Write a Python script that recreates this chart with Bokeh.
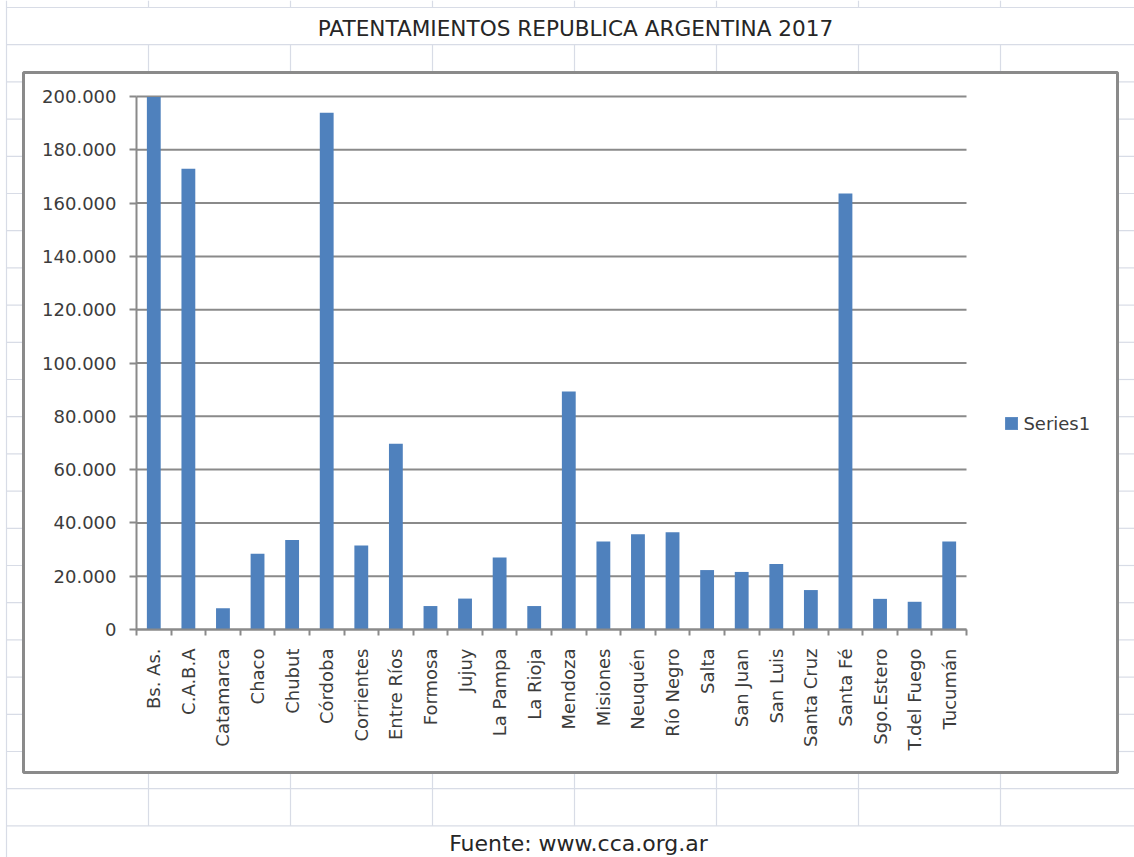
import math
from bokeh.plotting import figure
from bokeh.models import (FixedTicker, BoxAnnotation, Label, Legend, LegendItem, Range1d)
from bokeh.embed import file_html
from bokeh.resources import INLINE

# ---------------- data ----------------
categories = ["Bs. As.", "C.A.B.A", "Catamarca", "Chaco", "Chubut", "Córdoba",
              "Corrientes", "Entre Ríos", "Formosa", "Jujuy", "La Pampa", "La Rioja",
              "Mendoza", "Misiones", "Neuquén", "Río Negro", "Salta", "San Juan",
              "San Luis", "Santa Cruz", "Santa Fé", "Sgo.Estero", "T.del Fuego", "Tucumán"]
patentamientos = [199800, 172900, 8000, 28400, 33600, 193900,
                  31500, 69700, 8800, 11600, 27000, 8800,
                  89300, 33000, 35700, 36500, 22300, 21600,
                  24600, 14800, 163600, 11500, 10400, 33000]
y_ticks = [0, 20000, 40000, 60000, 80000, 100000, 120000, 140000, 160000, 180000, 200000]
series_name = "Series1"
title_text = "PATENTAMIENTOS REPUBLICA ARGENTINA 2017"
source_text = "Fuente: www.cca.org.ar"

# ---------------- layout / style ----------------
W, H = 1134, 857
FL, FR, FT, FB = 136, 966, 96, 629   # plot area in canvas pixels
BOX = (23, 72, 1117, 772)            # chart area box (left, top, right, bottom)
FONT = "DejaVu Sans"
TXT = "#3c3c3c"
AXIS = "#8a8a8a"
BAR = "#4f81bd"
SHEET = "#d8dce6"

n = len(categories)
xs = list(range(n))
x_lo, x_hi = -0.5, n - 0.5
y_lo, y_hi = y_ticks[0], y_ticks[-1]

# ranges chosen so that the plot area lands on FL..FR / FT..FB while the frame fills the canvas
kx = (FR - FL) / (x_hi - x_lo)
ky = (FB - FT) / (y_hi - y_lo)
x_range = Range1d(x_lo - FL / kx, x_hi + (W - FR) / kx)
y_range = Range1d(y_lo - (H - FB) / ky, y_hi + FT / ky)

p = figure(width=W, height=H, output_backend="svg", toolbar_location=None,
           x_range=x_range, y_range=y_range,
           min_border=0, border_fill_color="white", background_fill_color="white",
           outline_line_color=None)

# ---- spreadsheet background (outside the chart box) ----
def sheet_box(l, t, r, b):
    p.add_layout(BoxAnnotation(left=l, right=r, top=t, bottom=b,
                               left_units="canvas", right_units="canvas",
                               top_units="canvas", bottom_units="canvas",
                               fill_color=SHEET, fill_alpha=1.0, line_color=None,
                               level="underlay"))

bl, bt, br, bb = BOX
row_h = 37.2
rows = [7 + row_h * k for k in range(23)]
for y in rows:
    if bt - 2 < y < bb + 2:
        sheet_box(6, y - 0.6, bl - 1, y + 0.6)
        sheet_box(br + 1, y - 0.6, W, y + 0.6)
    else:
        sheet_box(6, y - 0.6, W, y + 0.6)
cols = [148 + 142 * k for k in range(7)]
for x in cols:
    sheet_box(x - 0.6, 0, x + 0.6, 7)
    sheet_box(x - 0.6, 44, x + 0.6, bt - 1)
    sheet_box(x - 0.6, bb + 1, x + 0.6, rows[-1])
sheet_box(5.4, 0, 6.6, H)

# chart box border
p.add_layout(BoxAnnotation(left=bl, right=br, top=bt, bottom=bb,
                           left_units="canvas", right_units="canvas",
                           top_units="canvas", bottom_units="canvas",
                           fill_alpha=0.0, line_color="#8a8a8a", line_alpha=1.0,
                           line_width=3, level="underlay"))

# ---- horizontal gridlines (limited to the plot area) ----
p.segment(x0=[x_lo] * len(y_ticks), x1=[x_hi] * len(y_ticks), y0=y_ticks, y1=y_ticks,
          line_color=AXIS, line_width=2)

# ---- bars ----
r = p.vbar(x=xs, top=patentamientos, width=0.4, fill_color=BAR, line_color=None)

# ---- axes ----
xa = p.xaxis[0]
xa.fixed_location = y_lo
xa.bounds = (x_lo, x_hi)
xa.ticker = FixedTicker(ticks=xs, minor_ticks=[i - 0.5 for i in range(n + 1)])
xa.major_label_overrides = {i: c for i, c in zip(xs, categories)}
xa.major_label_orientation = math.pi / 2
xa.major_tick_out = 0
xa.major_tick_in = 0
xa.minor_tick_out = 6
xa.minor_tick_in = 0
xa.minor_tick_line_color = AXIS
xa.minor_tick_line_width = 2
xa.axis_line_color = AXIS
xa.axis_line_width = 2
xa.major_label_standoff = 13
xa.major_label_text_font = FONT
xa.major_label_text_font_size = "18px"
xa.major_label_text_color = TXT

ya = p.yaxis[0]
ya.fixed_location = x_lo
ya.bounds = (y_lo, y_hi)
ya.ticker = FixedTicker(ticks=y_ticks, minor_ticks=[])
ya.major_label_overrides = {t: f"{t:,}".replace(",", ".") for t in y_ticks}
ya.major_tick_out = 7
ya.major_tick_in = 0
ya.minor_tick_out = 0
ya.minor_tick_in = 0
ya.major_tick_line_color = AXIS
ya.major_tick_line_width = 2
ya.axis_line_color = AXIS
ya.axis_line_width = 2
ya.major_label_standoff = 13
ya.major_label_text_font = FONT
ya.major_label_text_font_size = "18px"
ya.major_label_text_color = TXT

p.xgrid.visible = False
p.ygrid.visible = False

# ---- legend ----
legend = Legend(items=[LegendItem(label=series_name, renderers=[r])],
                location=(1003.4, H - 433.5), orientation="vertical",
                glyph_width=16, glyph_height=16, label_standoff=4,
                padding=0, margin=0, spacing=0,
                border_line_color=None, background_fill_alpha=0.0,
                label_text_font=FONT, label_text_font_size="18px",
                label_text_color=TXT, label_height=16)
p.add_layout(legend, "center")

# ---- title and source (spreadsheet cells) ----
p.add_layout(Label(x=575, y=28, x_units="canvas", y_units="canvas",
                   text=title_text, text_align="center", text_baseline="middle",
                   text_font=FONT, text_font_size="21.6px", text_color="#262626"))
p.add_layout(Label(x=578, y=843, x_units="canvas", y_units="canvas",
                   text=source_text, text_align="center", text_baseline="middle",
                   text_font=FONT, text_font_size="22px", text_color="#262626"))

open("out.html", "w").write(file_html(p, INLINE))
